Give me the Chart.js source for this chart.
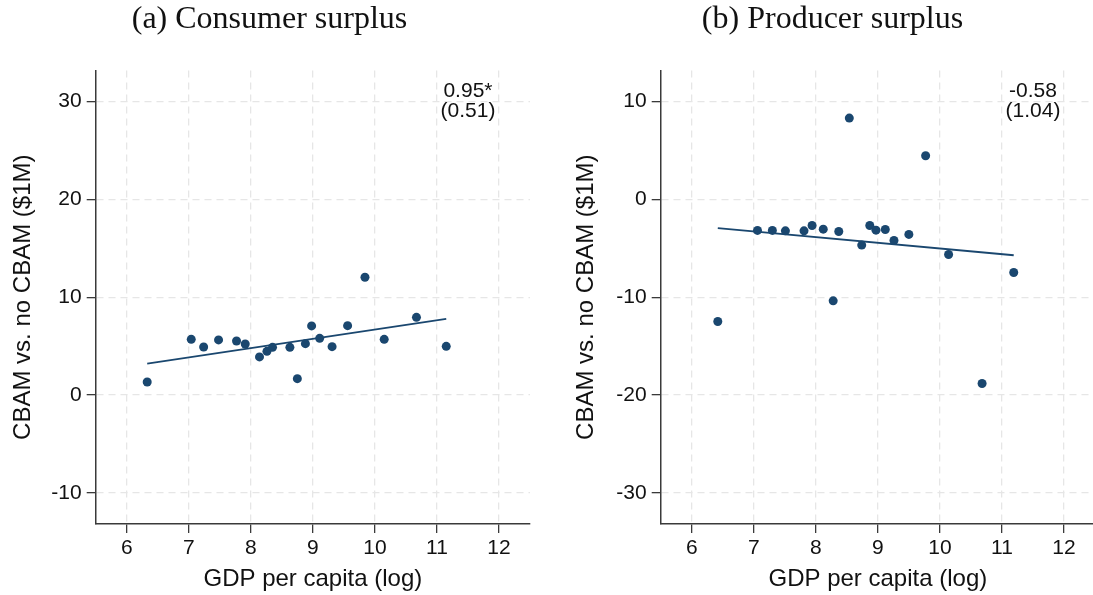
<!DOCTYPE html>
<html>
<head>
<meta charset="utf-8">
<script src="https://cdn.jsdelivr.net/npm/chart.js@4/dist/chart.umd.min.js"></script>
<style>
  html, body { margin: 0; padding: 0; background: #fff; overflow: hidden; }
  .panel { position: absolute; top: 0; height: 595px; }
  #consumer { left: 0; width: 546px; }
  #producer { left: 570px; width: 555px; }
</style>
</head>
<body>
<div class="panel" id="consumer"><canvas id="chartA"></canvas></div>
<div class="panel" id="producer"><canvas id="chartB"></canvas></div>
<script>
// log GDP per capita and surplus change by country
var gdpA = [6.33, 7.04, 7.24, 7.48, 7.77, 7.91, 8.14, 8.26, 8.35, 8.63,
            8.75, 8.88, 8.98, 9.11, 9.31, 9.56, 9.84, 10.15, 10.67, 11.15];
var consumerSurplus = [1.33, 5.69, 4.91, 5.63, 5.52, 5.21, 3.89, 4.46, 4.87, 4.87,
                       1.67, 5.25, 7.06, 5.79, 4.94, 7.09, 12.04, 5.69, 7.94, 4.97];

var gdpB = [6.42, 7.06, 7.30, 7.51, 7.81, 7.94, 8.12, 8.28, 8.37, 8.54,
            8.74, 8.87, 8.97, 9.12, 9.26, 9.50, 9.77, 10.14, 10.68, 11.19];
var producerSurplus = [-12.49, -3.17, -3.17, -3.21, -3.21, -2.66, -3.04, -10.37, -3.28, 8.32,
                       -4.67, -2.66, -3.14, -3.07, -4.20, -3.58, 4.47, -5.63, -18.83, -7.47];

// regression slopes and their text
var slopeA = 0.95;
var slopeB = -0.58;
var coefTextA = ['0.95*', '(0.51)'];
var coefTextB = ['-0.58', '(1.04)'];

var xTicks = [6, 7, 8, 9, 10, 11, 12];
var yTicksA = [-10, 0, 10, 20, 30];
var yTicksB = [-30, -20, -10, 0, 10];

var navy = '#1a476f';
var axisColor = '#3a3a3a';
var gridColor = '#e6e6e6';
var sans = 'Liberation Sans, Arial, Helvetica, sans-serif';

// fitted line through the means with the reported slope
function fitLine(xs, ys, slope) {
  var mx = 0, my = 0;
  for (var i = 0; i < xs.length; i++) { mx += xs[i]; my += ys[i]; }
  mx /= xs.length; my /= ys.length;
  var a = my - slope * mx;
  var lo = Math.min.apply(null, xs), hi = Math.max.apply(null, xs);
  return [{x: lo, y: a + slope * lo}, {x: hi, y: a + slope * hi}];
}

// coefficient text in the upper right
var coefLabel = {
  id: 'coefLabel',
  afterDatasetsDraw: function(chart, args, opts) {
    var ctx = chart.ctx;
    var px = chart.scales.x.getPixelForValue(opts.x);
    var py = chart.scales.y.getPixelForValue(opts.y);
    ctx.save();
    ctx.font = '21px ' + sans;
    ctx.fillStyle = '#111';
    ctx.textAlign = 'center';
    ctx.textBaseline = 'middle';
    opts.lines.forEach(function(t, i) {
      ctx.fillText(t, px, py + (i - (opts.lines.length - 1) / 2) * 20);
    });
    ctx.restore();
  }
};

function makeChart(id, p) {
  var pts = p.xs.map(function(x, i) { return {x: x, y: p.ys[i]}; });
  return new Chart(document.getElementById(id), {
    type: 'scatter',
    data: {
      datasets: [
        {
          data: pts,
          backgroundColor: navy,
          borderWidth: 0,
          pointRadius: 4.5,
          pointHoverRadius: 4.5,
          order: 1
        },
        {
          type: 'line',
          data: fitLine(p.xs, p.ys, p.slope),
          borderColor: navy,
          borderWidth: 1.8,
          pointRadius: 0,
          fill: false,
          order: 2
        }
      ]
    },
    plugins: [coefLabel],
    options: {
      responsive: true,
      maintainAspectRatio: false,
      animation: false,
      layout: { padding: { left: p.padLeft, right: p.padRight, top: 0, bottom: 0 } },
      plugins: {
        legend: { display: false },
        tooltip: { enabled: false },
        title: {
          display: true,
          text: p.title,
          color: '#111',
          font: { family: 'Liberation Serif, Times New Roman, serif', size: 32, weight: 'normal', lineHeight: 1.2 },
          padding: { top: 0, bottom: 32 }
        },
        coefLabel: { lines: p.coef, x: 11.5, y: p.yLabelAt }
      },
      scales: {
        x: {
          type: 'linear',
          min: 5.5,
          max: 12.5,
          afterBuildTicks: function(s) { s.ticks = xTicks.map(function(v) { return {value: v}; }); },
          afterFit: function(s) { s.height = 71; },
          ticks: { color: '#111', font: { family: sans, size: 21 }, padding: 3, maxRotation: 0 },
          grid: { color: gridColor, lineWidth: 1.3, tickLength: 9, tickColor: axisColor, tickWidth: 1.3, tickBorderDash: [] },
          border: { display: true, color: axisColor, width: 1.5, dash: [7, 5] },
          title: { display: true, text: 'GDP per capita (log)', color: '#111', font: { family: sans, size: 24 }, padding: { top: 0, bottom: 1 } }
        },
        y: {
          type: 'linear',
          min: p.yMin,
          max: p.yMax,
          afterBuildTicks: function(s) { s.ticks = p.yTicks.map(function(v) { return {value: v}; }); },
          afterFit: function(s) { s.width = p.yWidth; },
          ticks: { color: '#111', font: { family: sans, size: 21 }, padding: 5 },
          grid: { color: gridColor, lineWidth: 1.3, tickLength: 9, tickColor: axisColor, tickWidth: 1.3, tickBorderDash: [] },
          border: { display: true, color: axisColor, width: 1.5, dash: [7, 5] },
          title: { display: true, text: 'CBAM vs. no CBAM ($1M)', color: '#111', font: { family: sans, size: 24 }, padding: { top: p.yTitlePad, bottom: 0 } }
        }
      }
    }
  });
}

makeChart('chartA', {
  title: '(a) Consumer surplus',
  xs: gdpA, ys: consumerSurplus, slope: slopeA, coef: coefTextA,
  yTicks: yTicksA, yMin: -13.2, yMax: 33.2, yLabelAt: 30,
  padLeft: 9, padRight: 16, yWidth: 86.7, yTitlePad: 0
});

makeChart('chartB', {
  title: '(b) Producer surplus',
  xs: gdpB, ys: producerSurplus, slope: slopeB, coef: coefTextB,
  yTicks: yTicksB, yMin: -33.2, yMax: 13.2, yLabelAt: 10,
  padLeft: 0, padRight: 30, yWidth: 90.7, yTitlePad: 2.2
});
</script>
</body>
</html>
